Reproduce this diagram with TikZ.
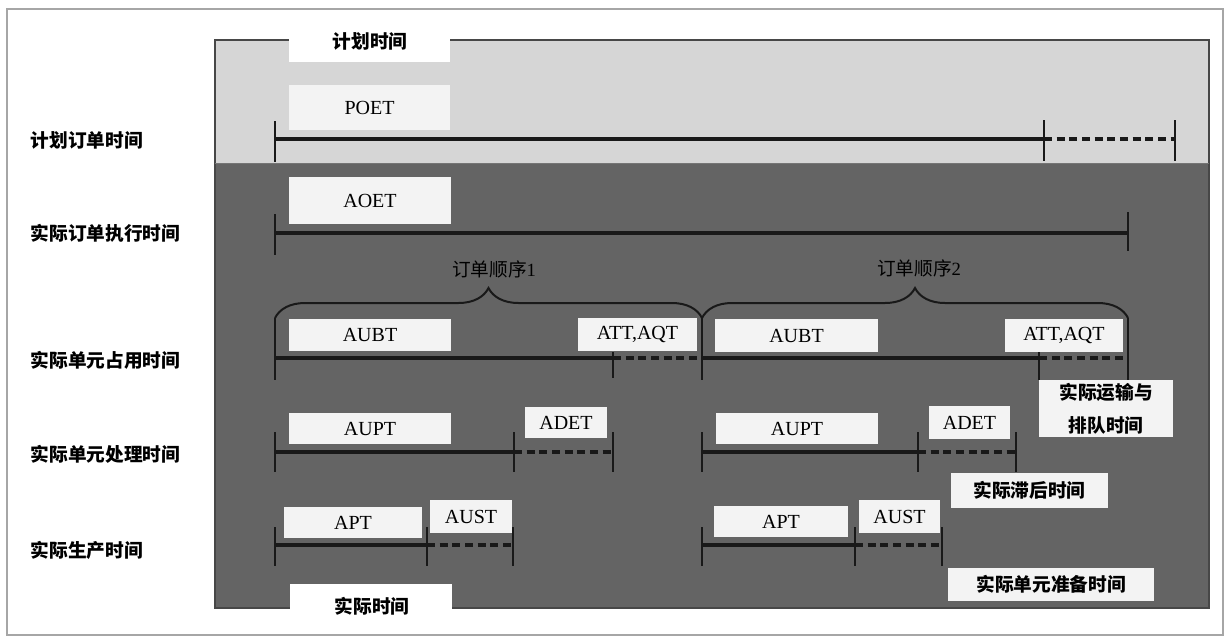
\documentclass[tikz,border=0pt]{standalone}
\usepackage{fontspec}
\setmainfont{Liberation Serif}
\newfontfamily\cjk{Noto Sans CJK SC}
\usetikzlibrary{decorations.pathreplacing,fit}
\definecolor{lightfill}{RGB}{214,214,214}
\definecolor{darkfill}{RGB}{100,100,100}
\definecolor{boxfill}{RGB}{243,243,243}
\definecolor{ink}{RGB}{25,25,25}
\newcommand{\tk}[3]{\draw[tick] (#1,#2) -- (#1,#3);}
\begin{document}
\begin{tikzpicture}[x=0.75pt,y=-0.75pt,
  box/.style={fill=boxfill,draw=none,inner sep=0pt},
  lat/.style={font=\fontsize{15}{16}\selectfont,inner sep=0pt},
  cn/.style={font={\cjk\bfseries\fontsize{14}{19}\selectfont},inner sep=0pt},
  lbl/.style={anchor=west,font={\cjk\bfseries\fontsize{14}{16}\selectfont}},
  ord/.style={font={\cjk\fontsize{14}{16}\selectfont}},
  solidseg/.style={draw=ink,line width=2.6pt},
  dashseg/.style={draw=ink,line width=2.6pt,dash pattern=on 6pt off 3.5pt},
  tick/.style={draw=ink,line width=1.8pt},
  brc/.style={draw=ink,line width=1.5pt,decorate,decoration={brace,amplitude=22.5pt}},
]
\useasboundingbox (0,0) rectangle (1225,637);
\fill[white] (0,0) rectangle (1225,637);
\draw[gray!70,line width=1pt] (7,9) rectangle (1223,635);
% panel
\fill[lightfill] (215,40) rectangle (1209,163);
\fill[darkfill] (215,163) rectangle (1209,608);
\draw[ink!80,line width=0.8pt] (215,40) rectangle (1209,608);
\draw[ink!60,line width=0.6pt] (215,163) -- (1209,163);
% tabs
\fill[white] (289,36) rectangle (450,62);
\node[cn] (tabplan) at (370,41) {计划时间};
\fill[white] (290,584) rectangle (452,612);
\node[cn] (tabact) at (372,606) {实际时间};
% left labels
\node[lbl] (l1) at (26,140) {计划订单时间};
\node[lbl] (l2) at (26,233) {实际订单执行时间};
\node[lbl] (l3) at (26,360) {实际单元占用时间};
\node[lbl] (l4) at (26,454) {实际单元处理时间};
\node[lbl] (l5) at (26,550) {实际生产时间};
% boxes
\node[box,fit={(289,85)(450,130)}] (poet) {};
\node[lat] (tpoet) at (poet.center) {POET};
\node[box,fit={(289,177)(451,224)}] (aoet) {};
\node[lat] (taoet) at (aoet.center) {AOET};
\node[box,fit={(289,319)(451,351)}] (aubta) {};
\node[lat] (taubta) at (aubta.center) {AUBT};
\node[box,fit={(578,318)(697,351)}] (atta) {};
\node[lat] (tatta) at (atta.center) {ATT,AQT};
\node[box,fit={(715,319)(878,352)}] (aubtb) {};
\node[lat] (taubtb) at (aubtb.center) {AUBT};
\node[box,fit={(1005,319)(1123,352)}] (attb) {};
\node[lat] (tattb) at (attb.center) {ATT,AQT};
\node[box,fit={(1039,380)(1173,437)}] (trans) {};
\node[cn,align=center,font={\cjk\bfseries\fontsize{14}{25}\selectfont}] (ttrans) at (trans.center) {实际运输与\\排队时间};
\node[box,fit={(289,413)(451,444)}] (aupta) {};
\node[lat] (taupta) at (aupta.center) {AUPT};
\node[box,fit={(525,407)(607,438)}] (adeta) {};
\node[lat] (tadeta) at (adeta.center) {ADET};
\node[box,fit={(716,413)(878,444)}] (auptb) {};
\node[lat] (tauptb) at (auptb.center) {AUPT};
\node[box,fit={(929,406)(1010,439)}] (adetb) {};
\node[lat] (tadetb) at (adetb.center) {ADET};
\node[box,fit={(951,473)(1108,508)}] (delay) {};
\node[cn] (tdelay) at (delay.center) {实际滞后时间};
\node[box,fit={(284,507)(422,538)}] (apta) {};
\node[lat] (tapta) at (apta.center) {APT};
\node[box,fit={(430,500)(512,533)}] (austa) {};
\node[lat] (tausta) at (austa.center) {AUST};
\node[box,fit={(714,506)(848,537)}] (aptb) {};
\node[lat] (taptb) at (aptb.center) {APT};
\node[box,fit={(859,500)(940,533)}] (austb) {};
\node[lat] (taustb) at (austb.center) {AUST};
\node[box,fit={(948,568)(1154,601)}] (setup) {};
\node[cn] (tsetup) at (setup.center) {实际单元准备时间};
% row 1: planned order time
\draw[solidseg] (275,139) -- (1044,139);
\draw[dashseg] (1044,139) -- (1175,139);
\tk{275}{121}{162}\tk{1044}{120}{161}\tk{1175}{120}{161}
% row 2: actual order execution
\draw[solidseg] (275,233) -- (1128,233);
\tk{275}{214}{255}\tk{1128}{212}{251}
% braces
\draw[brc] (275,318) -- (702,318);
\draw[brc] (702,318) -- (1128,318);
\node[ord] (ord1) at (494,269) {订单顺序{\rmfamily 1}};
\node[ord] (ord2) at (919,268) {订单顺序{\rmfamily 2}};
% row 3: unit occupation
\draw[solidseg] (275,358) -- (613,358);
\draw[dashseg] (613,358) -- (702,358);
\draw[solidseg] (702,358) -- (1039,358);
\draw[dashseg] (1039,358) -- (1128,358);
\tk{275}{318}{380}\tk{613}{352}{378}\tk{702}{318}{380}\tk{1039}{352}{380}\tk{1128}{318}{380}
% row 4: unit processing
\draw[solidseg] (275,452) -- (514,452);
\draw[dashseg] (514,452) -- (613,452);
\tk{275}{432}{472}\tk{514}{432}{472}\tk{613}{432}{472}
\draw[solidseg] (702,452) -- (918,452);
\draw[dashseg] (918,452) -- (1016,452);
\tk{702}{432}{472}\tk{918}{432}{472}\tk{1016}{432}{472}
% row 5: production
\draw[solidseg] (275,545) -- (427,545);
\draw[dashseg] (427,545) -- (513,545);
\tk{275}{527}{566}\tk{427}{527}{566}\tk{513}{527}{566}
\draw[solidseg] (702,545) -- (855,545);
\draw[dashseg] (855,545) -- (942,545);
\tk{702}{527}{566}\tk{855}{527}{566}\tk{942}{527}{566}
\end{tikzpicture}
\end{document}
